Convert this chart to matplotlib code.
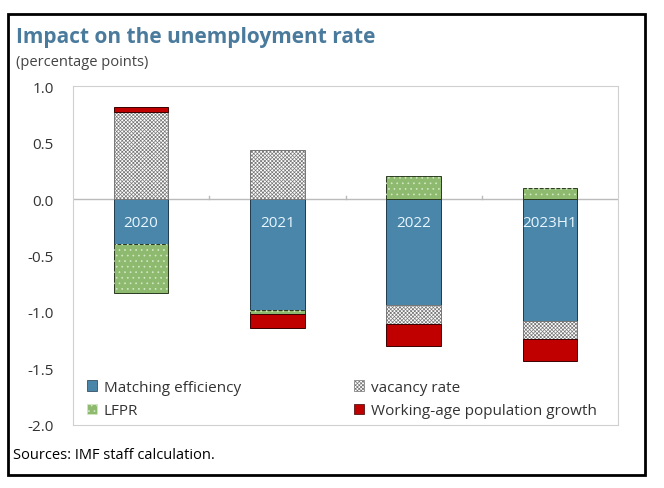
import matplotlib.pyplot as plt
from matplotlib.patches import Patch, Rectangle
import numpy as np

plt.rcParams['font.family'] = ['Open Sans', 'DejaVu Sans']
plt.rcParams['hatch.linewidth'] = 0.5

# data
periods = ['2020', '2021', '2022', '2023H1']
matching = [-0.40, -0.98, -0.94, -1.08]
vacancy = [0.77, 0.43, -0.17, -0.16]
lfpr = [-0.43, -0.04, 0.20, 0.10]
wapg = [0.04, -0.12, -0.19, -0.19]

blue = '#4A86AA'
green = '#8DBA6E'
red = '#C00000'

fig = plt.figure(figsize=(6.64, 4.89), dpi=100)
ax = fig.add_axes([73 / 664, 1 - 426 / 489, 545 / 664, 339 / 489])

x = np.arange(len(periods))
w = 0.40
pos = np.zeros(len(periods))
neg = np.zeros(len(periods))


def stack(vals, **kw):
    global pos, neg
    vals = np.array(vals)
    bottom = np.where(vals >= 0, pos, neg)
    bars = ax.bar(x, vals, w, bottom=bottom, **kw)
    pos = pos + np.clip(vals, 0, None)
    neg = neg + np.clip(vals, None, 0)
    return bars, bottom


stack(matching, color=blue, edgecolor='#1f3a4a', linewidth=0.7, zorder=2)
stack(vacancy, color='white', edgecolor='#777777', hatch='xxxxxxxxx', linewidth=0.7, zorder=2)
_, lb = stack(lfpr, color=green, edgecolor='#2a3a20', linewidth=0.7, zorder=2)
ax.bar(x, lfpr, w, bottom=lb, fill=False, edgecolor='#d4e8c4', hatch='...', linewidth=0, zorder=3)
stack(wapg, color=red, edgecolor='#3a0000', linewidth=0.7, zorder=2)

# labels inside the bars
for xi, lab in zip(x, periods):
    ax.text(xi, -0.21, lab, ha='center', va='center', color='#e8f6ff', fontsize=11)

ax.set_xlim(-0.5, 3.5)
ax.set_ylim(-2.0, 1.0)
ax.set_yticks([1.0, 0.5, 0.0, -0.5, -1.0, -1.5, -2.0])
ax.set_yticklabels(['1.0', '0.5', '0.0', '-0.5', '-1.0', '-1.5', '-2.0'])
ax.tick_params(axis='y', length=0, labelsize=11, colors='#333333', pad=14)
ax.set_xticks([])
ax.axhline(0, color='#bbbbbb', linewidth=1, zorder=1)
for b in [0.5, 1.5, 2.5]:
    ax.plot([b, b], [0, 0.03], color='#bbbbbb', linewidth=1, zorder=1)
for s in ax.spines.values():
    s.set_color('#d0d0d0')
    s.set_linewidth(0.8)

handles = [
    Patch(facecolor=blue, edgecolor='#1f3a4a', linewidth=0.5),
    Patch(facecolor=green, edgecolor='#d4e8c4', hatch='...', linewidth=0.5),
    Patch(facecolor='white', edgecolor='#777777', hatch='xxxxxxxxx', linewidth=0.5),
    Patch(facecolor=red, edgecolor='#3a0000', linewidth=0.5),
]
labels = ['Matching efficiency', 'LFPR', 'vacancy rate', 'Working-age population growth']
ax.legend(handles, labels, ncol=2, loc='lower left', bbox_to_anchor=(0.0, -7 / 339),
          frameon=False, fontsize=11, handlelength=0.7, handleheight=0.7,
          handletextpad=0.4, columnspacing=7.4, labelspacing=0.55,
          labelcolor='#333333')

fig.text(16 / 664, 1 - 38 / 489, 'Impact on the unemployment rate', fontsize=15,
         fontweight='bold', color='#4A7A9C', va='center')
fig.text(16 / 664, 1 - 62 / 489, '(percentage points)', fontsize=10.5,
         color='#444444', va='center')
fig.text(13 / 664, 1 - 456 / 489, 'Sources: IMF staff calculation.', fontsize=10.5,
         color='black', va='center')

fig.add_artist(Rectangle((8 / 664, 1 - 476 / 489), 637 / 664, 461 / 489,
                         transform=fig.transFigure, fill=False,
                         edgecolor='black', linewidth=2))

fig.savefig('out.png', dpi=100)
